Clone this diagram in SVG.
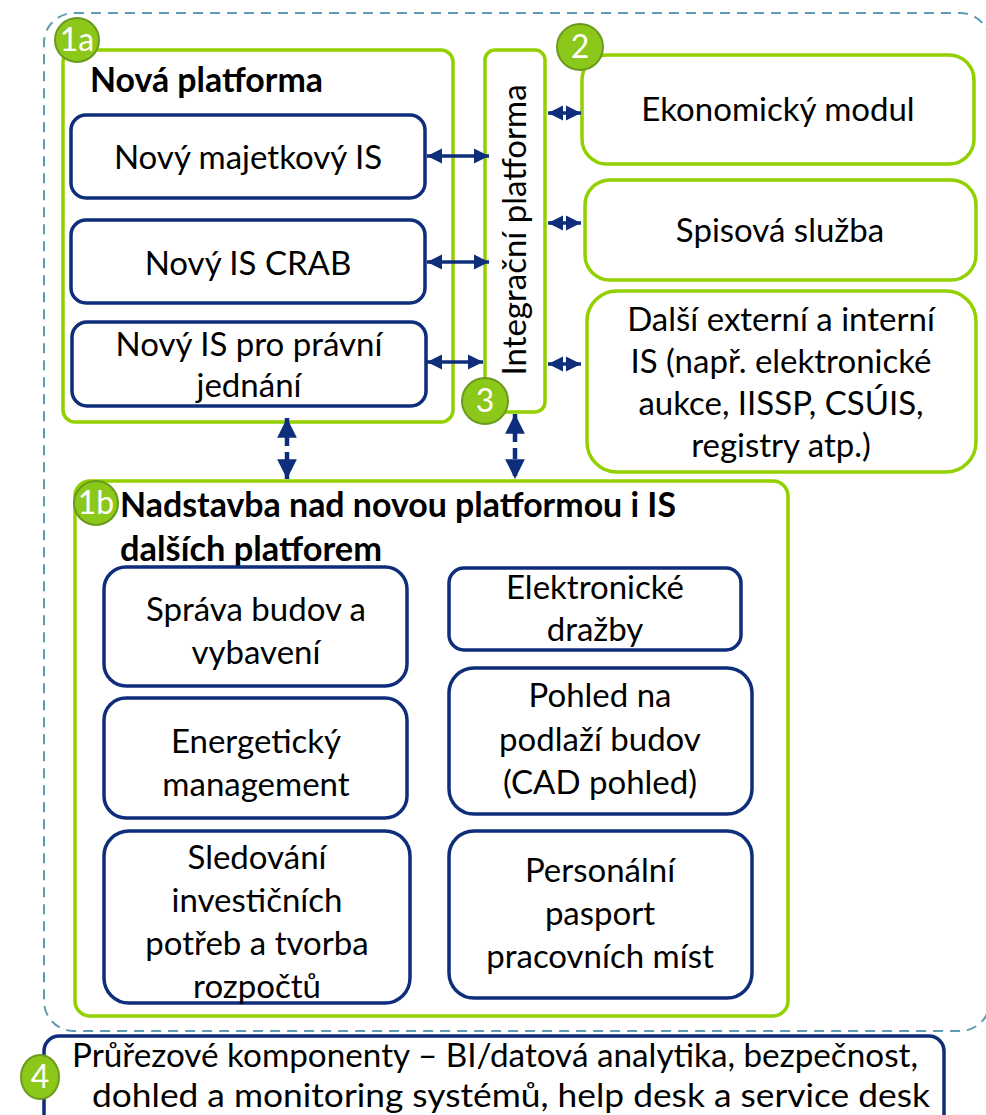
<svg xmlns="http://www.w3.org/2000/svg" width="986" height="1115" viewBox="0 0 986 1115">
<style>
.t{font-family:Lato,"Liberation Sans",sans-serif;font-size:33px;fill:#000;text-anchor:middle}
.b{font-weight:bold;text-anchor:start;font-size:34px}
.g{fill:#fff;stroke:#92D000;stroke-width:3.5}
.n{fill:#fff;stroke:#0E2D7A;stroke-width:3.5}
.bd{fill:#8CC81A;stroke:#6A9A1E;stroke-width:2}
.bt{font-family:Lato,"Liberation Sans",sans-serif;font-size:32px;fill:#fff;text-anchor:middle}
.c{stroke:#0E2D7A;stroke-width:3.5;fill:none;marker-start:url(#ah);marker-end:url(#ah)}
.d{stroke-dasharray:11 6;stroke-width:4.5}
</style>
<defs>
<marker id="ah" viewBox="0 0 10 10" refX="10" refY="5" markerWidth="4.4" markerHeight="4.4" orient="auto-start-reverse" markerUnits="strokeWidth">
<path d="M0,0 L10,5 L0,10 z" fill="#0E2D7A"/>
</marker>
</defs>
<rect id="outer" x="44" y="13" width="946" height="1018" rx="30" fill="none" stroke="#5E9CB3" stroke-width="2" stroke-dasharray="10 7"/>

<g id="n1a">
<rect class="g" x="63" y="50" width="390" height="372" rx="12"/>
<circle class="bd" cx="77" cy="40" r="22"/>
<text class="bt" x="77" y="51">1a</text>
<text class="t b" x="90" y="92" textLength="233" lengthAdjust="spacingAndGlyphs">Nová platforma</text>
</g>
<g id="majetkovy">
<rect class="n" x="71" y="115" width="354" height="83" rx="15"/>
<text class="t" x="248" y="169">Nový majetkový IS</text>
</g>
<g id="crab">
<rect class="n" x="71" y="220" width="354" height="83" rx="15"/>
<text class="t" x="248" y="275">Nový IS CRAB</text>
</g>
<g id="pravni">
<rect class="n" x="72" y="322" width="354" height="84" rx="15"/>
<text class="t" x="249" y="356">Nový IS pro právní</text>
<text class="t" x="249" y="397">jednání</text>
</g>
<g id="integracni">
<rect class="g" x="485" y="50" width="60" height="362" rx="10"/>
<text class="t" transform="translate(526,230) rotate(-90)">Integrační platforma</text>
<circle class="bd" cx="485" cy="401" r="23"/>
<text class="bt" x="485" y="412">3</text>
</g>
<g id="ekonomicky">
<rect class="g" x="582" y="55" width="392" height="109" rx="25"/>
<circle class="bd" cx="580" cy="47" r="23"/>
<text class="bt" x="580" y="58">2</text>
<text class="t" x="778" y="121">Ekonomický modul</text>
</g>
<g id="spisova">
<rect class="g" x="585" y="180" width="391" height="100" rx="25"/>
<text class="t" x="780" y="242">Spisová služba</text>
</g>
<g id="dalsi">
<rect class="g" x="587" y="291" width="389" height="181" rx="30"/>
<text class="t" x="781" y="331">Další externí a interní</text>
<text class="t" x="781" y="373">IS (např. elektronické</text>
<text class="t" x="781" y="415">aukce, IISSP, CSÚIS,</text>
<text class="t" x="781" y="457">registry atp.)</text>
</g>
<g id="n1b">
<rect class="g" x="75" y="481" width="713" height="535" rx="15"/>
<circle class="bd" cx="96" cy="503" r="22"/>
<text class="bt" x="96" y="514">1b</text>
<text class="t b" x="120" y="517" textLength="556" lengthAdjust="spacingAndGlyphs">Nadstavba nad novou platformou i IS</text>
<text class="t b" x="120" y="561" textLength="262" lengthAdjust="spacingAndGlyphs">dalších platforem</text>
</g>
<g id="sprava">
<rect class="n" x="104" y="567" width="303" height="119" rx="22"/>
<text class="t" x="256" y="621">Správa budov a</text>
<text class="t" x="256" y="664">vybavení</text>
</g>
<g id="energeticky">
<rect class="n" x="104" y="698" width="303" height="120" rx="22"/>
<text class="t" x="256" y="753">Energetický</text>
<text class="t" x="256" y="796">management</text>
</g>
<g id="sledovani">
<rect class="n" x="104" y="831" width="306" height="172" rx="25"/>
<text class="t" x="257" y="869">Sledování</text>
<text class="t" x="257" y="912">investičních</text>
<text class="t" x="257" y="955">potřeb a tvorba</text>
<text class="t" x="257" y="998">rozpočtů</text>
</g>
<g id="drazby">
<rect class="n" x="449" y="568" width="292" height="82" rx="15"/>
<text class="t" x="595" y="599">Elektronické</text>
<text class="t" x="595" y="641">dražby</text>
</g>
<g id="pohled">
<rect class="n" x="449" y="668" width="303" height="146" rx="25"/>
<text class="t" x="600" y="707">Pohled na</text>
<text class="t" x="600" y="751">podlaží budov</text>
<text class="t" x="600" y="794">(CAD pohled)</text>
</g>
<g id="personalni">
<rect class="n" x="449" y="831" width="303" height="167" rx="25"/>
<text class="t" x="600" y="882">Personální</text>
<text class="t" x="600" y="925">pasport</text>
<text class="t" x="600" y="968">pracovních míst</text>
</g>
<g id="n4">
<rect class="n" x="44" y="1036" width="900" height="95" rx="15"/>
<text class="t" x="495" y="1067" textLength="846" lengthAdjust="spacingAndGlyphs">Průřezové komponenty – BI/datová analytika, bezpečnost,</text>
<text class="t" x="511" y="1107" textLength="838" lengthAdjust="spacingAndGlyphs">dohled a monitoring systémů, help desk a service desk</text>
<ellipse class="bd" cx="40" cy="1077" rx="19" ry="22"/>
<text class="bt" x="40" y="1088">4</text>
</g>
<g id="connectors">
<line class="c" x1="427" y1="156" x2="489" y2="156"/>
<line class="c" x1="427" y1="262" x2="489" y2="262"/>
<line class="c" x1="427" y1="362" x2="483" y2="362"/>
<line class="c" x1="548" y1="113" x2="581" y2="113"/>
<line class="c" x1="548" y1="223" x2="581" y2="223"/>
<line class="c" x1="548" y1="364" x2="581" y2="364"/>
<line class="c d" x1="287" y1="418" x2="287" y2="479"/>
<line class="c d" x1="515" y1="414" x2="515" y2="479"/>
</g>
</svg>
